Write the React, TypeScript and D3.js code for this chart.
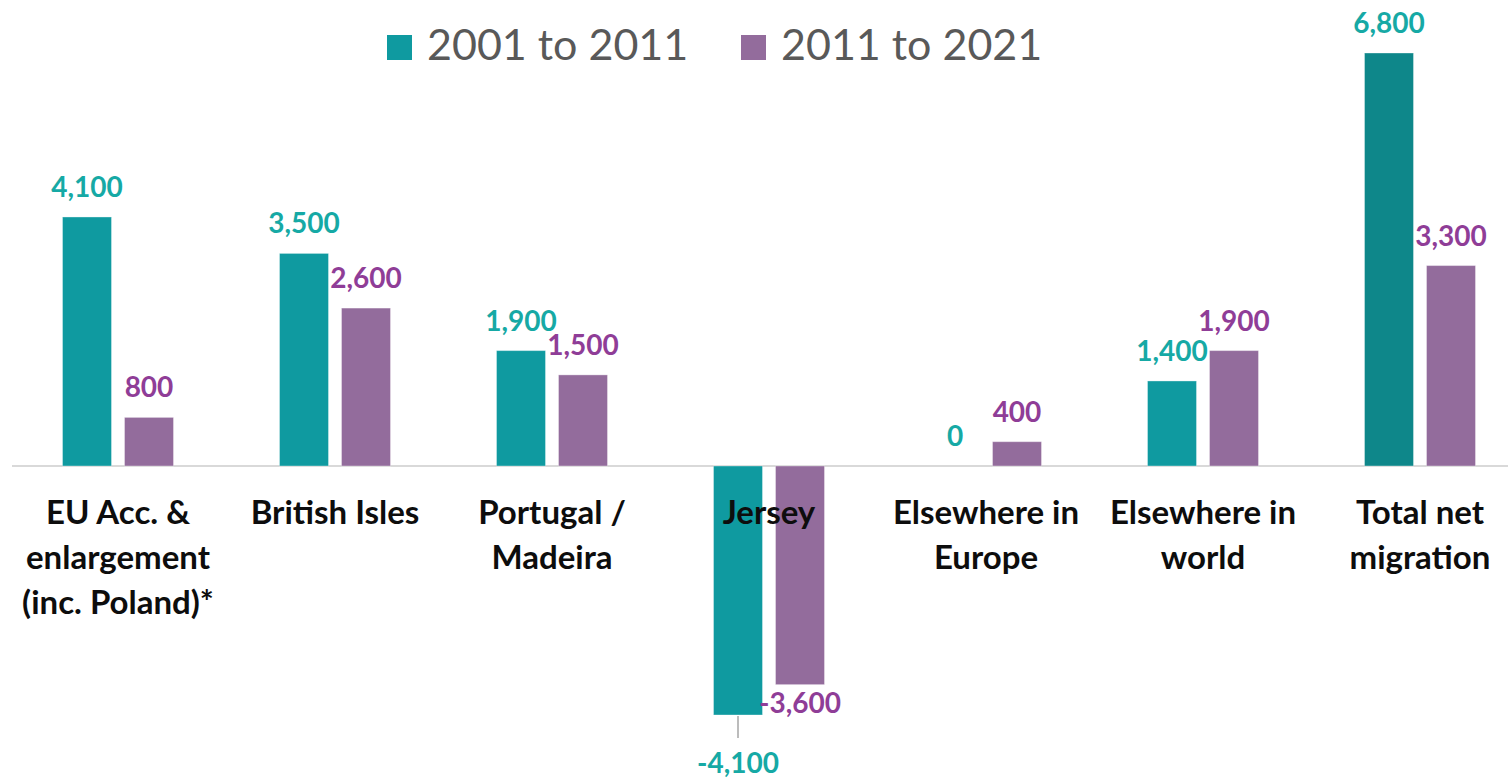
import React from 'react';
import * as d3 from 'd3';

// categories and values (net migration by place of birth)
const categories = [
  'EU Acc. &\nenlargement\n(inc. Poland)*',
  'British Isles',
  'Portugal /\nMadeira',
  'Jersey',
  'Elsewhere in\nEurope',
  'Elsewhere in\nworld',
  'Total net\nmigration',
];
const series = ['2001 to 2011', '2011 to 2021'];
const values2001to2011 = [4100, 3500, 1900, -4100, 0, 1400, 6800];
const values2011to2021 = [800, 2600, 1500, -3600, 400, 1900, 3300];

const WIDTH = 1508;
const HEIGHT = 778;
const FONT = 'Lato, "Open Sans", sans-serif';

const barColors = ['#0f9aa0', '#936c9c'];
const totalColor = '#0e878a';
const labelColors = ['#16a9a5', '#8f3d97'];

// plain hyphen for negatives, like the original
const fmt = d3.formatLocale({ decimal: '.', thousands: ',', grouping: [3], currency: ['', ''], minus: '-' }).format(',');

export default function App() {
  const allValues = [values2001to2011, values2011to2021];

  const x0 = d3.scaleBand<number>()
    .domain(d3.range(categories.length))
    .range([9.5, 9.5 + 217 * categories.length]);

  // two bars of 49px with a 13px gap, centred in each category band
  const x1 = d3.scaleBand<number>()
    .domain([0, 1])
    .range([53, x0.bandwidth() - 53])
    .paddingInner(13 / 62);

  const y = d3.scaleLinear().domain([-4100, 6800]).range([715, 53]);

  // the -4,100 label was dragged down in the original, with a leader line
  const isMoved = (s: number, i: number) => s === 0 && allValues[s][i] === -4100;

  return (
    <svg width={WIDTH} height={HEIGHT} style={{ position: 'absolute', left: 0, top: 0, background: '#fff' }}>
      {/* zero line */}
      <line x1={12} x2={WIDTH} y1={y(0)} y2={y(0)} stroke="#d9d9d9" strokeWidth={2} />

      {/* bars */}
      {allValues.map((vals, s) =>
        vals.map((v, i) => {
          const bx = x0(i)! + x1(s)!;
          const top = y(Math.max(v, 0));
          const h = Math.abs(y(v) - y(0));
          const last = i === categories.length - 1;
          return (
            <rect key={`b${s}-${i}`} x={bx} y={top} width={x1.bandwidth()} height={h}
              fill={s === 0 && last ? totalColor : barColors[s]}
              stroke="#ffffff" strokeOpacity={0.35} strokeWidth={1} />
          );
        })
      )}

      {/* category labels */}
      {categories.map((c, i) => (
        <text key={`c${i}`} x={x0(i)! + x0.bandwidth() / 2} y={524}
          textAnchor="middle" fontFamily={FONT} fontWeight="bold" fontSize={33} fill="#0d0d0d">
          {c.split('\n').map((line, k) => (
            <tspan key={k} x={x0(i)! + x0.bandwidth() / 2} dy={k === 0 ? 0 : 45}>{line}</tspan>
          ))}
        </text>
      ))}

      {/* data labels */}
      {allValues.map((vals, s) =>
        vals.map((v, i) => {
          const cx = x0(i)! + x1(s)! + x1.bandwidth() / 2;
          let ly = v >= 0 ? y(v) - 20 : y(v) + 28;
          const moved = isMoved(s, i);
          if (moved) ly = y(v) + 58;
          return (
            <g key={`l${s}-${i}`}>
              {moved && (
                <line x1={cx} x2={cx} y1={y(v) + 1} y2={y(v) + 23} stroke="#a6a6a6" strokeWidth={1.5} />
              )}
              <text x={cx} y={ly} textAnchor="middle" fontFamily={FONT} fontWeight="bold"
                fontSize={28} fill={labelColors[s]}>{fmt(v)}</text>
            </g>
          );
        })
      )}

      {/* legend */}
      {series.map((name, s) => {
        const lx = s === 0 ? 387 : 741;
        return (
          <g key={`lg${s}`} transform={`translate(${lx},35)`}>
            <rect width={25} height={25} fill={barColors[s]} />
            <text x={40} y={25} fontFamily={FONT} fontSize={43} fill="#595959">{name}</text>
          </g>
        );
      })}
    </svg>
  );
}
